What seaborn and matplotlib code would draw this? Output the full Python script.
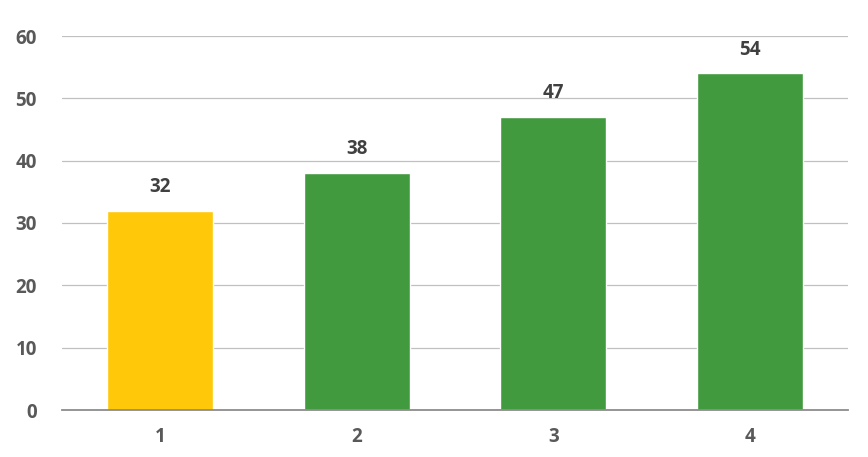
import matplotlib
matplotlib.use("Agg")
import matplotlib.pyplot as plt
import seaborn as sns
import pandas as pd

# datos del grafico
categorias = ["1", "2", "3", "4"]
valores = [32, 38, 47, 54]
colores = ["#FFC808", "#429A3F", "#429A3F", "#429A3F"]

df = pd.DataFrame({"cat": categorias, "val": valores})

sns.set_style("white")
plt.rcParams["font.family"] = ["Open Sans", "DejaVu Sans"]

fig = plt.figure(figsize=(8.68, 4.57), dpi=100)
ax = fig.add_axes([62 / 868, 1 - 410 / 457, (848 - 62) / 868, (410 - 36) / 457])

sns.barplot(data=df, x="cat", y="val", hue="cat", palette=colores,
            saturation=1, width=0.54, legend=False, ax=ax, zorder=3)

ax.set_ylim(0, 60)
ax.set_xlim(-0.5, 3.5)
ax.set_yticks(range(0, 61, 10))
ax.yaxis.grid(True, color="#C0C0C0", linewidth=0.9, zorder=0)
ax.set_axisbelow(True)
for s in ["top", "right", "left"]:
    ax.spines[s].set_visible(False)
ax.spines["bottom"].set_color("#8C8C8C")
ax.spines["bottom"].set_linewidth(1.3)
ax.spines["bottom"].set_zorder(4)

ax.tick_params(axis="both", length=0, labelsize=13.5, labelcolor="#595959")
ax.tick_params(axis="y", pad=18)
ax.tick_params(axis="x", pad=12)
for lab in ax.get_xticklabels() + ax.get_yticklabels():
    lab.set_fontweight("bold")
ax.set_xlabel("")
ax.set_ylabel("")

# etiquetas de valores
for c in ax.containers:
    ax.bar_label(c, padding=10, fontsize=13.5, fontweight="bold", color="#404040")

fig.savefig("out.png", dpi=100)
